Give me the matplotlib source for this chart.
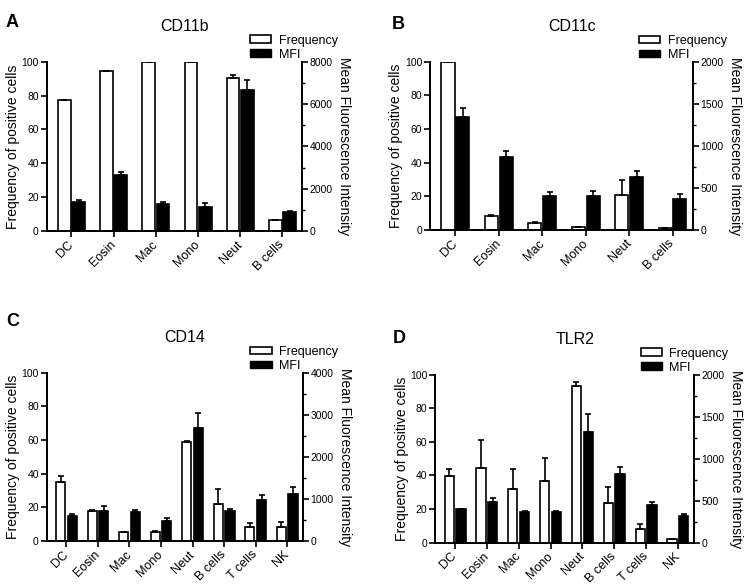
"""Frequency / MFI bar charts for four surface markers (panels A-D)."""
import matplotlib
matplotlib.use("Agg")
import matplotlib.pyplot as plt
from matplotlib.patches import Patch
from matplotlib.ticker import MultipleLocator

plt.rcParams["font.family"] = ["Liberation Sans", "DejaVu Sans"]

# ── Data ──────────────────────────────────────────────────────────────────────
cells6 = ["DC", "Eosin", "Mac", "Mono", "Neut", "B cells"]
cells8 = ["DC", "Eosin", "Mac", "Mono", "Neut", "B cells", "T cells", "NK"]

cd11b_freq = [77.3, 94.3, 100, 100, 90.3, 6.5]
cd11b_freq_err = [0.4, 0.3, 0, 0, 1.6, 0]
cd11b_mfi = [1390, 2656, 1280, 1155, 6656, 885]
cd11b_mfi_err = [60, 114, 80, 175, 459, 80]

cd11c_freq = [100, 8.3, 4.0, 1.6, 20.8, 1.2]
cd11c_freq_err = [0, 0.6, 0.6, 0.3, 8.9, 0.2]
cd11c_mfi = [1338, 863, 400, 408, 626, 368]
cd11c_mfi_err = [112, 76, 55, 59, 79, 60]

cd14_freq = [34.9, 18.1, 5.2, 5.4, 58.7, 22.0, 8.5, 8.5]
cd14_freq_err = [4.0, 0.6, 0, 0.6, 1.0, 8.8, 2.2, 2.8]
cd14_mfi = [603, 714, 690, 476, 2675, 722, 968, 1127]
cd14_mfi_err = [32, 119, 40, 80, 365, 40, 135, 159]

tlr2_freq = [39.6, 44.4, 31.7, 36.8, 93.1, 23.6, 8.1, 2.4]
tlr2_freq_err = [4.0, 16.4, 12.1, 13.5, 2.3, 9.5, 3.2, 0]
tlr2_mfi = [400, 487, 360, 364, 1311, 816, 447, 317]
tlr2_mfi_err = [0, 48, 12, 12, 214, 83, 40, 28]

panels = [
    # letter, title, cats, freq, freq_err, mfi, mfi_err, mfi max, major, minor
    ("A", "CD11b", cells6, cd11b_freq, cd11b_freq_err, cd11b_mfi, cd11b_mfi_err, 8000, 2000, 1000),
    ("B", "CD11c", cells6, cd11c_freq, cd11c_freq_err, cd11c_mfi, cd11c_mfi_err, 2000, 500, 250),
    ("C", "CD14", cells8, cd14_freq, cd14_freq_err, cd14_mfi, cd14_mfi_err, 4000, 1000, 500),
    ("D", "TLR2", cells8, tlr2_freq, tlr2_freq_err, tlr2_mfi, tlr2_mfi_err, 2000, 500, 250),
]

# axes rectangles in figure fractions (left, bottom, width, height)
rects = [
    (0.062, 0.607, 0.341, 0.288),
    (0.573, 0.609, 0.351, 0.286),
    (0.062, 0.080, 0.342, 0.286),
    (0.580, 0.077, 0.345, 0.286),
]
letter_pos = [(0.008, 0.977), (0.522, 0.972), (0.008, 0.468), (0.524, 0.438)]

fig = plt.figure(figsize=(7.5, 5.88), dpi=100)

for (letter, title, cats, freq, ferr, mfi, merr, mmax, major, minor), rect, lp in zip(
        panels, rects, letter_pos):
    ax = fig.add_axes(rect)
    ax2 = ax.twinx()
    n = len(cats)
    x = list(range(n))
    w = 0.3 if n == 6 else 0.29
    off = 0.17 if n == 6 else 0.185

    ax.bar([i - off for i in x], freq, width=w, color="white",
           edgecolor="black", linewidth=1.2, zorder=2)
    ax.errorbar([i - off for i in x], freq, yerr=[[0] * n, ferr], fmt="none",
                ecolor="black", elinewidth=1.2, capsize=2.5, capthick=1.2, zorder=3)
    ax2.bar([i + off for i in x], mfi, width=w, color="black",
            edgecolor="black", linewidth=1.2, zorder=2)
    ax2.errorbar([i + off for i in x], mfi, yerr=[[0] * n, merr], fmt="none",
                 ecolor="black", elinewidth=1.2, capsize=2.5, capthick=1.2, zorder=3)

    ax.set_ylim(0, 100)
    ax2.set_ylim(0, mmax)
    if n == 6:
        ax.set_xlim(-0.59, 5.47)
    else:
        ax.set_xlim(-0.63, 7.5)
    ax.yaxis.set_major_locator(MultipleLocator(20))
    ax2.yaxis.set_major_locator(MultipleLocator(major))
    ax2.yaxis.set_minor_locator(MultipleLocator(minor))

    for a in (ax, ax2):
        a.spines["top"].set_visible(False)
        for s in ("left", "right", "bottom"):
            a.spines[s].set_linewidth(1.3)
        a.tick_params(axis="both", which="major", direction="out", length=4,
                      width=1.2, labelsize=7.5, pad=1.5)
        a.tick_params(axis="y", which="minor", direction="out", length=2.5, width=1.0)

    ax.set_xticks(x)
    ax.set_xticklabels(cats, rotation=45, ha="right", va="center",
                       rotation_mode="anchor")
    ax.tick_params(axis="x", labelsize=9, pad=4.5)

    ax.set_ylabel("Frequency of positive cells", fontsize=10, labelpad=1)
    ax2.set_ylabel("Mean Fluorescence Intensity", fontsize=10, rotation=-90,
                   labelpad=13)
    ax.set_title(title, fontsize=11.5, pad=22, x=0.54)

    handles = [Patch(facecolor="white", edgecolor="black", linewidth=1.2, label="Frequency"),
               Patch(facecolor="black", edgecolor="black", label="MFI")]
    ax.legend(handles=handles, loc="upper left", bbox_to_anchor=(0.795, 1.16),
              frameon=False, fontsize=9, borderpad=0, borderaxespad=0,
              handlelength=1.7, handleheight=0.55, handletextpad=0.6,
              labelspacing=0.15)

    fig.text(lp[0], lp[1], letter, fontsize=13, fontweight="bold",
             ha="left", va="top")

fig.savefig("out.png", dpi=100)
